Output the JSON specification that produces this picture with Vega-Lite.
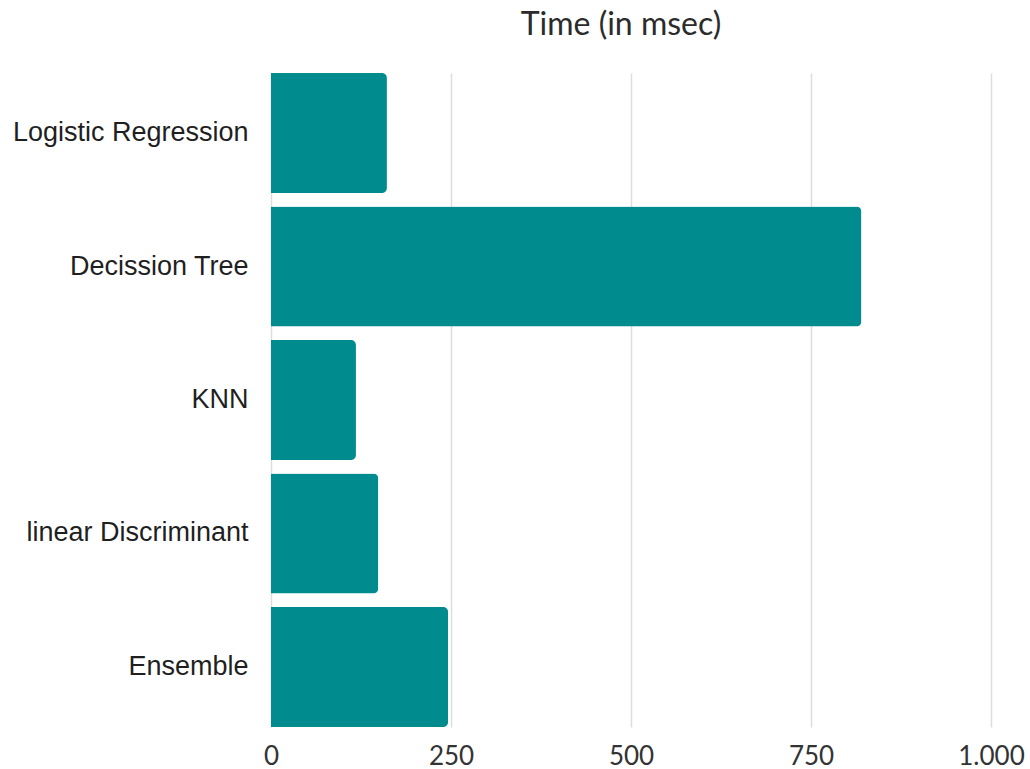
{
  "$schema": "https://vega.github.io/schema/vega-lite/v6.json",
  "autosize": "none",
  "width": 720,
  "height": 654,
  "padding": {"left": 271, "top": 73, "right": 39, "bottom": 42},
  "background": "white",
  "title": {
    "text": "Time (in msec)",
    "font": "Lato",
    "fontSize": 32,
    "fontWeight": "normal",
    "color": "#2b2b2b",
    "anchor": "middle",
    "offset": 31,
    "dx": -10
  },
  "data": {
    "values": [
      {"model": "Logistic Regression", "time": 161},
      {"model": "Decission Tree", "time": 820},
      {"model": "KNN", "time": 118},
      {"model": "linear Discriminant", "time": 149},
      {"model": "Ensemble", "time": 246}
    ]
  },
  "mark": {"type": "bar", "color": "#008b8f", "cornerRadiusEnd": 5},
  "encoding": {
    "y": {
      "field": "model",
      "type": "nominal",
      "sort": null,
      "scale": {"paddingInner": 0.1, "paddingOuter": 0},
      "axis": {
        "title": null,
        "domain": false,
        "ticks": false,
        "labelFont": "Liberation Sans",
        "labelFontSize": 27,
        "labelColor": "#1f1f1f",
        "labelPadding": 23,
        "labelLimit": 400
      }
    },
    "x": {
      "field": "time",
      "type": "quantitative",
      "scale": {"domain": [0, 1000], "nice": false},
      "axis": {
        "title": null,
        "domain": false,
        "ticks": false,
        "values": [0, 250, 500, 750, 1000],
        "labelExpr": "replace(format(datum.value, ','), ',', '.')",
        "labelFont": "Lato",
        "labelFontSize": 26,
        "labelColor": "#333333",
        "labelPadding": 16,
        "labelFlush": false,
        "grid": true,
        "gridColor": "#dddddd",
        "gridWidth": 1.5
      }
    }
  },
  "config": {"view": {"stroke": null}}
}
